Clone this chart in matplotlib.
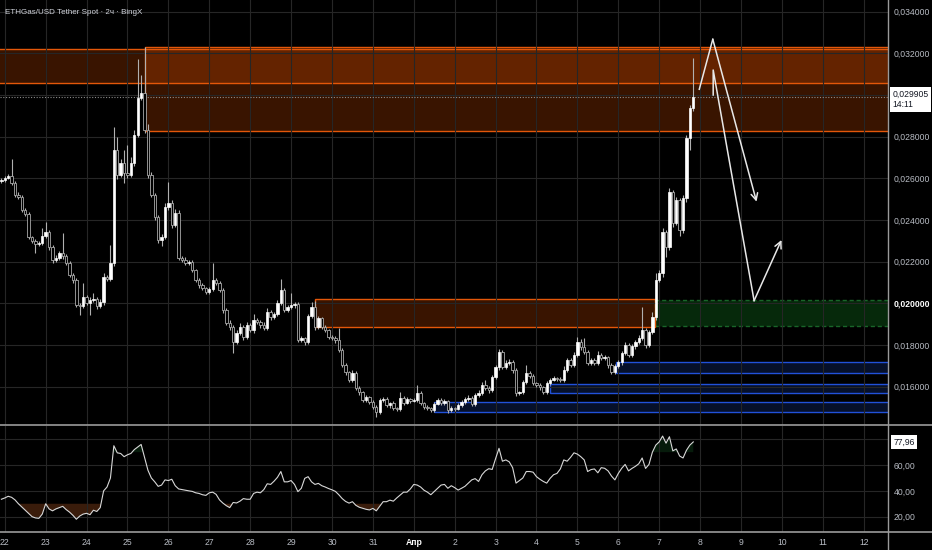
import numpy as np
import pandas as pd
import matplotlib
matplotlib.use('Agg')
import matplotlib.pyplot as plt
import matplotlib.patches as patches
from matplotlib.lines import Line2D

plt.rcParams['font.family'] = ['Liberation Sans', 'DejaVu Sans']

# --- data: 2h candles, prices in units of 0.00001 USDT ---
start_time = '2025-03-21 22:00'
first_open = 2585
closes = [
    2592, 2602, 2611, 2578, 2520, 2510, 2448, 2429, 2318, 2299, 2285, 2290,
    2323, 2342, 2270, 2208, 2218, 2242, 2227, 2194, 2136, 2112, 1992, 1987,
    2030, 2002, 2016, 2021, 1987, 2006, 2126, 2117, 2194, 2736, 2616, 2674,
    2626, 2616, 2674, 2808, 2986, 3010, 2832, 2616, 2520, 2414, 2304, 2318,
    2462, 2482, 2376, 2434, 2218, 2208, 2194, 2198, 2160, 2112, 2088, 2074,
    2054, 2069, 2112, 2098, 2064, 1968, 1906, 1886, 1814, 1858, 1886, 1838,
    1896, 1872, 1920, 1910, 1896, 1882, 1958, 1934, 1949, 2002, 2064, 1968,
    1982, 1992, 1997, 1824, 1834, 1814, 1939, 1982, 1886, 1930, 1886, 1872,
    1838, 1834, 1824, 1776, 1704, 1670, 1632, 1666, 1594, 1574, 1536, 1550,
    1526, 1502, 1478, 1536, 1541, 1512, 1522, 1498, 1493, 1546, 1522, 1541,
    1531, 1536, 1570, 1522, 1502, 1498, 1488, 1517, 1536, 1522, 1531, 1488,
    1498, 1493, 1512, 1526, 1541, 1546, 1517, 1560, 1570, 1608, 1594, 1584,
    1646, 1694, 1766, 1694, 1714, 1718, 1680, 1570, 1574, 1622, 1666, 1651,
    1618, 1608, 1598, 1574, 1618, 1632, 1642, 1637, 1632, 1680, 1728, 1704,
    1752, 1814, 1790, 1766, 1714, 1728, 1714, 1752, 1738, 1742, 1704, 1670,
    1699, 1718, 1762, 1800, 1752, 1795, 1814, 1834, 1872, 1800, 1862, 1934,
    2112, 2146, 2342, 2270, 2534, 2386, 2496, 2352, 2506, 2794, 2938, 2990,
]
upper_wick = [
    8, 10, 12, 82, 10, 14, 8, 12, 10, 6, 10, 8,
    39, 48, 10, 8, 12, 10, 96, 10, 8, 12, 10, 8,
    68, 10, 12, 29, 8, 14, 20, 12, 86, 110, 64, 20,
    62, 134, 30, 25, 187, 86, 220, 30, 15, 12, 10, 14,
    20, 100, 12, 20, 15, 10, 14, 8, 10, 6, 8, 10,
    6, 10, 82, 10, 8, 10, 8, 12, 10, 14, 20, 8,
    15, 10, 30, 10, 8, 12, 20, 10, 8, 15, 53, 10,
    8, 58, 10, 8, 10, 6, 10, 24, 30, 8, 6, 8,
    6, 8, 10, 58, 8, 10, 6, 12, 8, 10, 6, 8,
    6, 8, 10, 12, 8, 10, 6, 8, 6, 28, 8, 10,
    6, 8, 38, 10, 6, 8, 6, 10, 12, 8, 10, 6,
    8, 6, 10, 8, 10, 12, 8, 10, 12, 14, 24, 10,
    12, 10, 15, 10, 12, 14, 10, 8, 6, 12, 38, 10,
    8, 6, 8, 6, 10, 12, 8, 6, 10, 20, 12, 10,
    14, 24, 14, 44, 8, 12, 10, 20, 8, 10, 6, 8,
    10, 12, 10, 14, 8, 12, 10, 14, 110, 10, 12, 24,
    34, 15, 20, 10, 20, 12, 15, 10, 12, 15, 15, 188,
]
lower_wick = [
    8, 10, 6, 12, 10, 8, 12, 10, 8, 10, 43, 12,
    10, 8, 12, 14, 10, 8, 12, 10, 8, 12, 10, 43,
    10, 12, 58, 8, 12, 10, 14, 10, 12, 14, 20, 10,
    48, 12, 10, 14, 10, 12, 15, 14, 10, 12, 14, 29,
    10, 12, 14, 10, 12, 8, 10, 12, 8, 10, 12, 8,
    10, 8, 12, 10, 8, 14, 10, 12, 52, 10, 8, 12,
    10, 8, 12, 10, 14, 8, 10, 12, 8, 10, 12, 10,
    8, 10, 12, 10, 8, 14, 10, 8, 12, 10, 8, 10,
    8, 10, 12, 8, 10, 12, 10, 8, 10, 12, 8, 10,
    8, 10, 24, 10, 8, 10, 12, 8, 10, 8, 10, 6,
    8, 6, 10, 8, 10, 12, 8, 10, 6, 8, 10, 12,
    8, 10, 6, 8, 10, 8, 12, 10, 8, 10, 8, 12,
    10, 8, 12, 10, 8, 10, 12, 14, 10, 8, 10, 8,
    10, 8, 12, 10, 8, 10, 6, 8, 10, 12, 8, 10,
    8, 10, 12, 10, 8, 12, 10, 8, 10, 12, 14, 10,
    8, 10, 12, 10, 8, 10, 12, 8, 10, 12, 10, 8,
    12, 10, 20, 48, 15, 20, 12, 30, 15, 20, 58, 14,
]
rsi = [
    33.5, 34.5, 35.8, 35, 33, 30, 27.5, 25, 22.5, 20, 19, 18.7,
    22, 30, 26, 24.5, 26, 27, 28, 25.5, 23.5, 21, 18, 20.5,
    22, 22.6, 21.5, 25, 24, 27, 40, 43, 50, 75, 69.5, 69,
    66.5, 68, 69, 72, 74, 76, 66, 56, 50, 47, 43.5, 44.5,
    48.5, 48, 49, 44, 41.5, 41, 40.5, 40, 39.6, 38.5, 38, 37,
    36.5, 38.5, 39, 37.3, 33, 30.5, 28.5, 27, 31, 30.6, 32, 34,
    33.5, 33.5, 38, 39, 38.5, 41, 45.5, 45, 47.5, 50.5, 55, 47,
    47, 48, 45, 39.4, 42, 49.7, 51, 47, 45, 45.8, 44, 43,
    41.8, 40.8, 39.6, 37, 34, 31.8, 30.5, 31.6, 28.8, 27.3, 26.5, 25.7,
    25.2, 26.4, 24.5, 28, 31.6, 31.6, 32.8, 32, 34.5, 36.8, 39, 39,
    41.5, 45, 44.5, 43, 40.5, 39, 37, 39.5, 42, 44.5, 45, 42,
    44, 42.5, 40.6, 42, 43.5, 46, 48.5, 49.5, 47.3, 52.5, 55.5, 57.2,
    56.6, 65, 73, 63, 64, 62.5, 58, 46, 48, 50, 55, 55,
    54.5, 51, 49, 47.3, 46, 49.7, 52.5, 53.5, 57, 64, 63, 66,
    69.5, 68.5, 66.5, 64, 55, 56.5, 57, 54, 58, 57.5, 55.5, 51.5,
    48.5, 53.5, 57.5, 60.5, 55.5, 57.4, 59, 61, 65.5, 57.4, 60.5, 70,
    75.5, 78, 82.5, 77, 82, 71, 72.5, 67, 65.5, 71.5, 75.5, 77.96,
]

day_labels = ['22', '23', '24', '25', '26', '27', '28', '29', '30', '31', 'Апр',
              '2', '3', '4', '5', '6', '7', '8', '9', '10', '11', '12']
price_ticks = [0.016, 0.018, 0.020, 0.022, 0.024, 0.026, 0.028, 0.030, 0.032, 0.034]
rsi_ticks = [20, 40, 60, 80]
last_price = 0.029905
last_rsi = 77.96

# drawings: (start day, end day, low, high), days counted from 22 Mar 00:00
orange_zones = [(-1.0, 23.0, 0.030563, 0.032195),
                (3.4167, 23.0, 0.028288, 0.032291),
                (7.58, 15.9, 0.01888, 0.020195)]
green_zone = (15.9, 23.0, 0.01891, 0.02016)
blue_zones = [(14.94, 23.0, 0.016643, 0.017171),
              (13.33, 23.0, 0.015683, 0.016115),
              (10.49, 23.0, 0.0148, 0.015251)]
arrow1 = [(16.98, 0.030275), (17.31, 0.032675), (18.38, 0.02488)]
arrow2 = [(17.32, 0.0300), (17.32, 0.0312), (18.32, 0.020128), (18.99, 0.023042)]

# --- prepare candles ---
times = pd.date_range(start_time, periods=len(closes), freq='2h')
t = ((times - pd.Timestamp('2025-03-22')) / pd.Timedelta('1D')).values
c = np.array(closes, dtype=float)
o = np.concatenate([[first_open], c[:-1]])
hi = (np.maximum(o, c) + np.array(upper_wick)) * 1e-5
lo = (np.minimum(o, c) - np.array(lower_wick)) * 1e-5
o = o * 1e-5
c = c * 1e-5
bull = c >= o

bg = '#000000'
grid_c = '#262626'
text_c = '#b8bcc4'

fig = plt.figure(figsize=(9.32, 5.5), dpi=100, facecolor=bg)
ax = fig.add_axes([0, 125 / 550, 888 / 932, 425 / 550], facecolor=bg)
ax_r = fig.add_axes([0, 18 / 550, 888 / 932, 106 / 550], facecolor=bg, sharex=ax)

xmin, xmax = -0.117, 21.594
ax.set_xlim(xmin, xmax)
ax.set_ylim(0.01416, 0.03456)

# grid
ax.set_xticks(range(len(day_labels)))
ax.set_yticks(price_ticks)
ax.grid(True, color=grid_c, lw=0.8, zorder=0)
ax.tick_params(axis='x', length=0, labelbottom=False)
ax.yaxis.tick_right()
ax.tick_params(axis='y', length=0, pad=4, labelsize=6.2, colors=text_c)
ylabels = [('%.6f' % p).replace('.', ',') for p in price_ticks]
ylabels[price_ticks.index(0.030)] = ''
ax.set_yticklabels(ylabels)
for lab, p in zip(ax.get_yticklabels(), price_ticks):
    if abs(p - 0.020) < 1e-9:
        lab.set_fontweight('bold')
        lab.set_color('#ffffff')
for s in ax.spines.values():
    s.set_visible(False)

# zones
for x0, x1, y0, y1 in orange_zones:
    ax.add_patch(patches.Rectangle((x0, y0), x1 - x0, y1 - y0, fc='#e65100', alpha=0.25,
                                   ec='none', zorder=1))
    ax.add_patch(patches.Rectangle((x0, y0), x1 - x0, y1 - y0, fill=False,
                                   ec='#e4570a', lw=1.0, zorder=1.5))
x0, x1, y0, y1 = green_zone
ax.add_patch(patches.Rectangle((x0, y0), x1 - x0, y1 - y0, fc='#08340f', alpha=0.8,
                               ec='#1f7a33', lw=1.0, ls=(0, (3, 2)), zorder=1))
for x0, x1, y0, y1 in blue_zones:
    ax.add_patch(patches.Rectangle((x0, y0), x1 - x0, y1 - y0, fc='#2962ff', alpha=0.17,
                                   ec='none', zorder=1))
    ax.add_patch(patches.Rectangle((x0, y0), x1 - x0, y1 - y0, fill=False,
                                   ec='#2151d9', lw=1.0, zorder=1.5))

# last price line
ax.axhline(last_price, color='#8c8c8c', ls=(0, (1, 1.5)), lw=0.8, zorder=2)

# candles
w = 0.7 / 12
ax.vlines(t, lo, hi, color='#b0b0b0', lw=0.8, zorder=3)
body_lo = np.minimum(o, c)
body_h = np.maximum(np.abs(c - o), 2e-5)
ax.bar(t[bull], body_h[bull], w, body_lo[bull], color='#ffffff', ec='#ffffff', lw=0.5, zorder=4)
ax.bar(t[~bull], body_h[~bull], w, body_lo[~bull], color='#000000', ec='#a8a8a8', lw=0.6, zorder=4)

# forecast arrows
for path in (arrow1, arrow2):
    xs = [p[0] for p in path]
    ys = [p[1] for p in path]
    ax.plot(xs[:-1], ys[:-1], color='#e8e8e8', lw=1.1, zorder=5)
    ax.annotate('', xy=path[-1], xytext=path[-2],
                arrowprops=dict(arrowstyle='->', color='#e8e8e8', lw=1.1,
                                mutation_scale=12, shrinkA=0, shrinkB=0), zorder=5)

# price tag
ax.annotate('0,029905\n14:11', xy=(1.0, last_price), xycoords=('axes fraction', 'data'),
            xytext=(3, 5), textcoords='offset points', ha='left', va='top',
            fontsize=6.2, color='#131722', linespacing=1.2, annotation_clip=False,
            bbox=dict(boxstyle='square,pad=0.3', fc='#ffffff', ec='none'))

# title
fig.text(5 / 932, 1 - 12 / 550, 'ETHGas/USD Tether Spot · 2ч · BingX', fontsize=5.8,
         color='#d1d4dc', ha='left', va='center')

# --- RSI panel ---
ax_r.set_ylim(8.1, 90.3)
ax_r.set_yticks(rsi_ticks)
ax_r.grid(True, color=grid_c, lw=0.8, zorder=0)
ax_r.yaxis.tick_right()
ax_r.tick_params(axis='y', length=0, pad=4, labelsize=6.2, colors=text_c)
ax_r.set_yticklabels(['20,00', '40,00', '60,00', ''])
ax_r.tick_params(axis='x', length=0, pad=4, labelsize=6.2, colors=text_c)
ax_r.set_xticks(range(len(day_labels)))
ax_r.set_xticklabels(day_labels)
for lab, txt in zip(ax_r.get_xticklabels(), day_labels):
    if txt == 'Апр':
        lab.set_fontweight('bold')
        lab.set_color('#ffffff')
for s in ax_r.spines.values():
    s.set_visible(False)

r = np.array(rsi)
ax_r.fill_between(t, r, 30, where=r < 30, interpolate=True, color='#6b3415', alpha=0.55, lw=0)
ax_r.fill_between(t, r, 70, where=r > 70, interpolate=True, color='#0f3d1a', alpha=0.45, lw=0)
ax_r.plot(t, r, color='#d8d8d8', lw=0.8, zorder=3)
ax_r.annotate('77,96', xy=(1.0, last_rsi), xycoords=('axes fraction', 'data'),
              xytext=(4, 0), textcoords='offset points', ha='left', va='center',
              fontsize=6.2, color='#131722', annotation_clip=False,
              bbox=dict(boxstyle='square,pad=0.25', fc='#ffffff', ec='none'))

# panel separators
sep = '#9a9a9a'
fig.add_artist(Line2D([0, 1], [125 / 550, 125 / 550], color=sep, lw=1.2))
fig.add_artist(Line2D([0, 1], [18 / 550, 18 / 550], color=sep, lw=1.2))
fig.add_artist(Line2D([888 / 932, 888 / 932], [0, 1], color=sep, lw=1.0))

fig.savefig('out.png', dpi=100, facecolor=bg)
